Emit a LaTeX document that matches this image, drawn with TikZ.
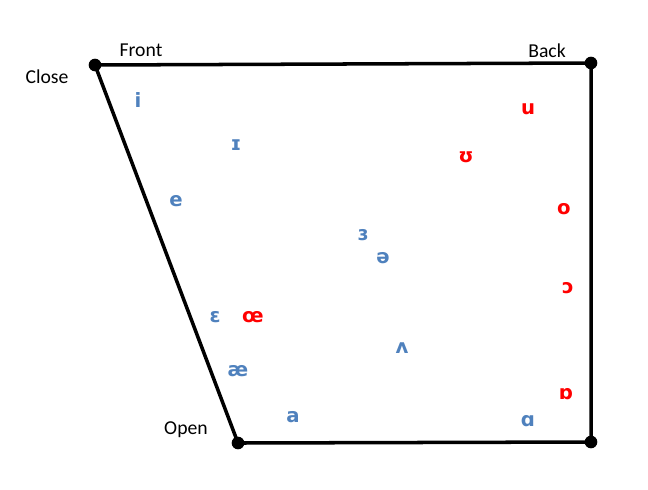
\documentclass[tikz,border=0pt]{standalone}
\usepackage{fontspec}
\setmainfont{Carlito}
\newfontfamily\ipafont{DejaVu Sans}
\usepackage{tikz}
\definecolor{vowelblue}{RGB}{79,129,189}
\definecolor{vowelred}{RGB}{255,0,0}

\begin{document}
\begin{tikzpicture}[
  x=0.025cm, y=-0.025cm,
  edge/.style={line width=2.5pt, line cap=round},
  corner/.style={circle, fill=black, inner sep=0pt, minimum size=9pt},
  axislabel/.style={font=\fontsize{14}{16}\selectfont},
  front/.style={text=vowelblue, font=\ipafont\bfseries\fontsize{14}{16}\selectfont},
  back/.style={text=vowelred, font=\ipafont\bfseries\fontsize{14}{16}\selectfont},
]
  \useasboundingbox (0,0) rectangle (648,489);

  % corners of the chart
  \node[corner] (cl) at (95,65) {};
  \node[corner] (cr) at (591,63) {};
  \node[corner] (or) at (591,442) {};
  \node[corner] (ol) at (238,443) {};

  \draw[edge] (cl.center) -- (cr.center) -- (or.center) -- (ol.center) -- cycle;

  \node[axislabel] (close) at (47,77) {Close};
  \node[axislabel] (front) at (141,50) {Front};
  \node[axislabel] (back) at (547,51) {Back};
  \node[axislabel] (open) at (186,430) {Open};

  % vowels
  \node[front] (vi) at (138,100) {i};
  \node[front] (vsi) at (236,145) {ɪ};
  \node[front] (ve) at (176,201) {e};
  \node[front] (vrev) at (363,235) {ɜ};
  \node[front] (vschwa) at (383,258) {ə};
  \node[front] (veps) at (215,317) {ɛ};
  \node[back] (voe) at (253,317) {œ};
  \node[front] (vae) at (238,371) {æ};
  \node[front] (vwedge) at (402,348) {ʌ};
  \node[front] (va) at (293,417) {a};
  \node[front] (vscripta) at (528,421) {ɑ};
  \node[back] (vturna) at (566,394) {ɒ};
  \node[back] (vu) at (528,109) {u};
  \node[back] (vup) at (466,157) {ʊ};
  \node[back] (vo) at (564,209) {o};
  \node[back] (vopeno) at (568,288) {ɔ};
\end{tikzpicture}
\end{document}
